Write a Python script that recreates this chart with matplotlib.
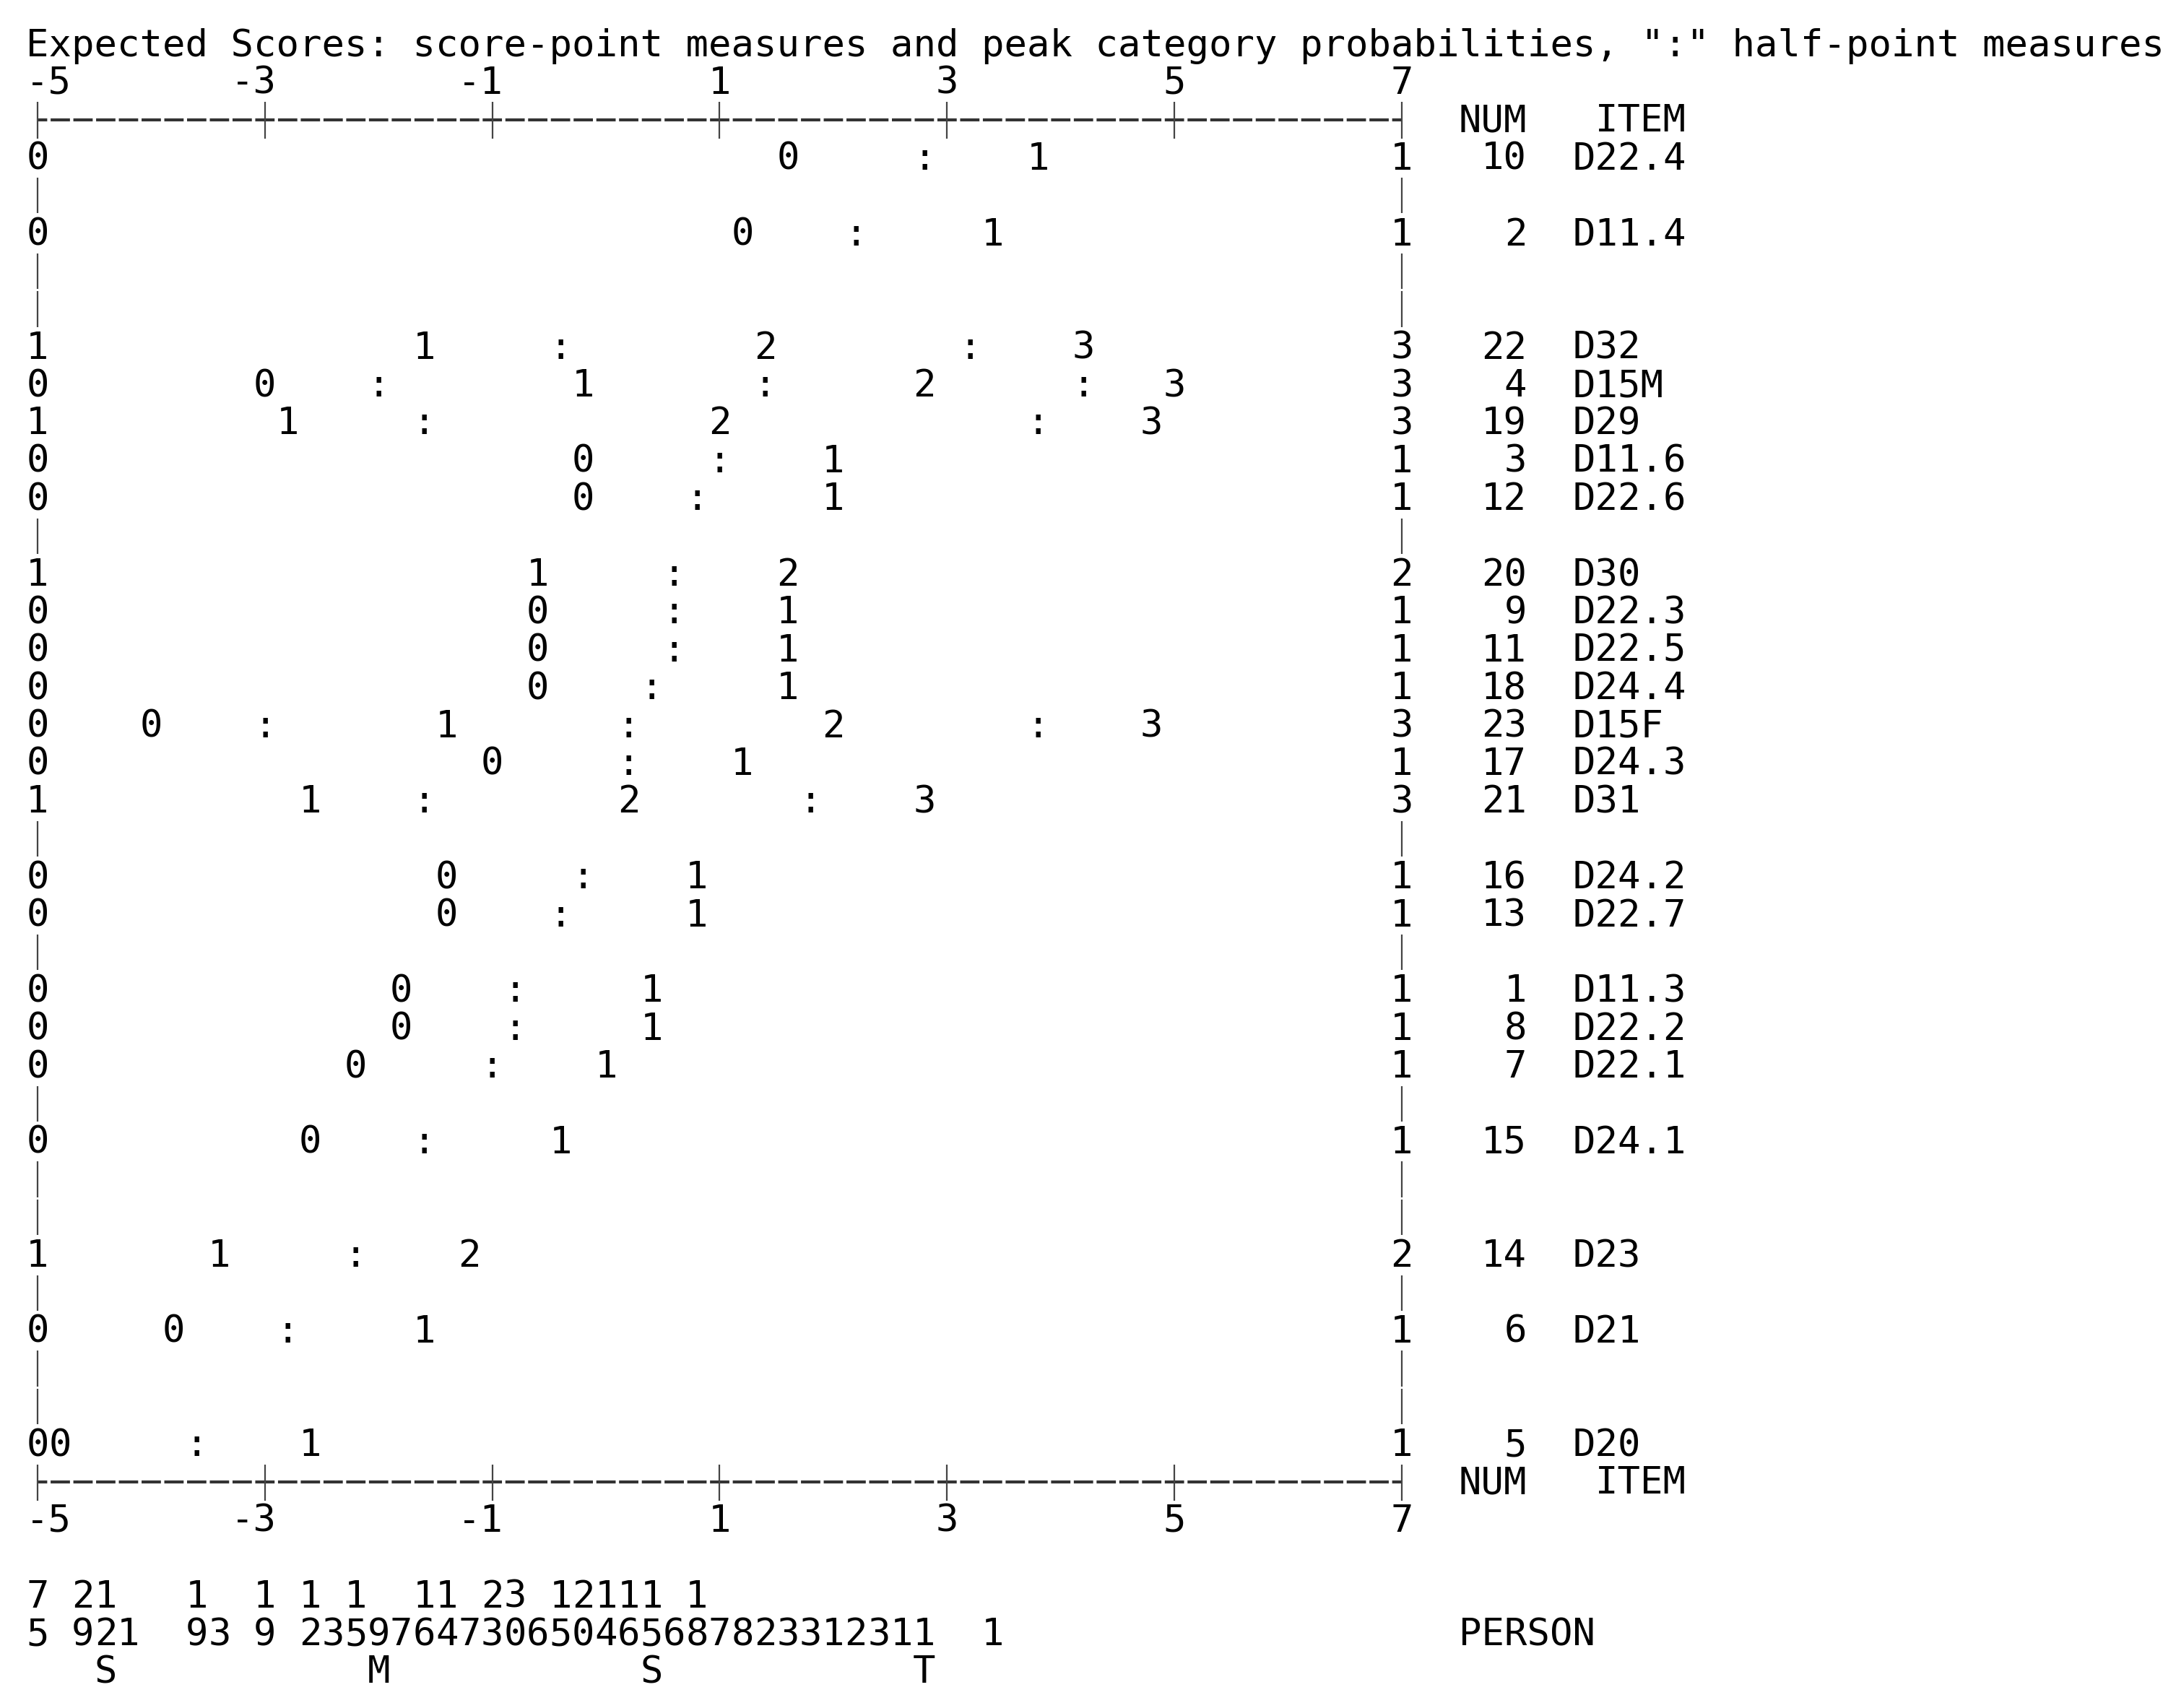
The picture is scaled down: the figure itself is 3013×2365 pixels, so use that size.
import matplotlib
matplotlib.use('Agg')
import matplotlib.pyplot as plt

# Itens, de cima para baixo, com NUM e categorias nas bordas do grafico
item_nomes = ['D22.4', 'D11.4', 'D32', 'D15M', 'D29', 'D11.6', 'D22.6', 'D30',
              'D22.3', 'D22.5', 'D24.4', 'D15F', 'D24.3', 'D31', 'D24.2', 'D22.7',
              'D11.3', 'D22.2', 'D22.1', 'D24.1', 'D23', 'D21', 'D20']
item_num = [10, 2, 22, 4, 19, 3, 12, 20, 9, 11, 18, 23, 17, 21, 16, 13, 1, 8, 7, 15, 14, 6, 5]
cat_esq = ['0', '0', '1', '0', '1', '0', '0', '1', '0', '0', '0', '0', '0', '1',
           '0', '0', '0', '0', '0', '0', '1', '0', '0']
cat_dir = ['1', '1', '3', '3', '3', '1', '1', '2', '1', '1', '1', '3', '1', '3',
           '1', '1', '1', '1', '1', '1', '2', '1', '1']

# Medidas dos pontos de escore (categoria, logit) e dos meio-pontos ":"
pontos = [
    [(0, 1.6), (1, 3.8)],
    [(0, 1.2), (1, 3.4)],
    [(1, -1.6), (2, 1.4), (3, 4.2)],
    [(0, -3.0), (1, -0.2), (2, 2.8), (3, 5.0)],
    [(1, -2.8), (2, 1.0), (3, 4.8)],
    [(0, -0.2), (1, 2.0)],
    [(0, -0.2), (1, 2.0)],
    [(1, -0.6), (2, 1.6)],
    [(0, -0.6), (1, 1.6)],
    [(0, -0.6), (1, 1.6)],
    [(0, -0.6), (1, 1.6)],
    [(0, -4.0), (1, -1.4), (2, 2.0), (3, 4.8)],
    [(0, -1.0), (1, 1.2)],
    [(1, -2.6), (2, 0.2), (3, 2.8)],
    [(0, -1.4), (1, 0.8)],
    [(0, -1.4), (1, 0.8)],
    [(0, -1.8), (1, 0.4)],
    [(0, -1.8), (1, 0.4)],
    [(0, -2.2), (1, 0.0)],
    [(0, -2.6), (1, -0.4)],
    [(1, -3.4), (2, -1.2)],
    [(0, -3.8), (1, -1.6)],
    [(0, -4.8), (1, -2.6)],
]
meio_pontos = [
    [2.8], [2.2], [-0.4, 3.2], [-2.0, 1.4, 4.2], [-1.6, 3.8], [1.0], [0.8],
    [0.6], [0.6], [0.6], [0.4], [-3.0, 0.2, 3.8], [0.2], [-1.6, 1.8],
    [-0.2], [-0.4], [-0.8], [-0.8], [-1.0], [-1.6], [-2.2], [-2.8], [-3.6],
]

# Ordem das linhas do grafico (None = linha so com "|")
linhas = ['D22.4', None, 'D11.4', None, None, 'D32', 'D15M', 'D29', 'D11.6', 'D22.6',
          None, 'D30', 'D22.3', 'D22.5', 'D24.4', 'D15F', 'D24.3', 'D31', None,
          'D24.2', 'D22.7', None, 'D11.3', 'D22.2', 'D22.1', None, 'D24.1', None, None,
          'D23', None, 'D21', None, None, 'D20']

# Escala
ticks = [-5, -3, -1, 1, 3, 5, 7]

# Distribuicao das pessoas (logit, contagem) e marcadores M/S/T
pessoa_medida = [-5.0, -4.6, -4.4, -4.2, -3.6, -3.4, -3.0, -2.6, -2.4, -2.2, -2.0,
                 -1.8, -1.6, -1.4, -1.2, -1.0, -0.8, -0.6, -0.4, -0.2, 0.0, 0.2,
                 0.4, 0.6, 0.8, 1.0, 1.2, 1.4, 1.6, 1.8, 2.0, 2.2, 2.4, 2.6, 2.8, 3.4]
pessoa_n = [75, 29, 12, 1, 19, 3, 19, 12, 3, 15, 9, 7, 16, 14, 7, 23, 30, 6, 15, 20,
            14, 16, 15, 6, 18, 7, 8, 2, 3, 3, 1, 2, 3, 1, 1, 1]
marca_medida = [-4.4, -2.0, 0.4, 2.8]
marca_rotulo = ['S', 'M', 'S', 'T']

titulo = 'Expected Scores: score-point measures and peak category probabilities, ":" half-point measures'

# Configuracao do grafico (texto monoespacado, 5 colunas por logit)
fonte = 'DejaVu Sans Mono'
tam = 37.65
col = 0.2

fig = plt.figure(figsize=(30.13, 23.65), dpi=100)
ax = fig.add_axes([0, 0, 1, 1])
ax.set_xlim(-5.33, 13.81)
ax.set_ylim(43.97, -1.17)
ax.axis('off')


def escreve(x, r, s, ha='center'):
    ax.text(x, r + 0.31, s, ha=ha, va='baseline', fontsize=tam, family=fonte, color='black')


escreve(ticks[0] - col / 2, 0, titulo, ha='left')

# Eixos de cima e de baixo
px_col = col * 3013 / (13.81 + 5.33)
lw = 3.0
lw_px = lw * 100 / 72
tracos = (0.85 * px_col / lw_px, 0.15 * px_col / lw_px)
for r_eixo, r_rot in [(2, 1), (38, 39)]:
    ax.plot([ticks[0], ticks[-1]], [r_eixo, r_eixo], color='#333333', lw=lw,
            linestyle=(tracos[0] / 2, tracos))
    ax.vlines(ticks, r_eixo - 0.47, r_eixo + 0.5, color='#444444', lw=1.6)
    for t in ticks:
        s = str(t)
        if t - col * len(s) + col / 2 < ticks[0] - col / 2:
            escreve(ticks[0] - col / 2, r_rot, s, ha='left')
        else:
            escreve(t + col / 2, r_rot, s, ha='right')
    escreve(8.0 + col / 2, r_eixo, 'NUM', ha='right')
    escreve(8.8 - col / 2, r_eixo, 'ITEM', ha='left')

# Linhas dos itens
for i, nome in enumerate(linhas):
    r = 3 + i
    if nome is None:
        ax.vlines([ticks[0], ticks[-1]], r - 0.47, r + 0.47, color='#444444', lw=1.6)
        continue
    k = item_nomes.index(nome)
    escreve(ticks[0], r, cat_esq[k])
    escreve(ticks[-1], r, cat_dir[k])
    for cat, m in pontos[k]:
        escreve(m, r, str(cat))
    for m in meio_pontos[k]:
        escreve(m, r, ':')
    escreve(8.0 + col / 2, r, str(item_num[k]), ha='right')
    escreve(8.6 - col / 2, r, nome, ha='left')

# Pessoas
for m, n in zip(pessoa_medida, pessoa_n):
    if n >= 10:
        escreve(m, 41, str(n // 10))
    escreve(m, 42, str(n % 10))
for m, s in zip(marca_medida, marca_rotulo):
    escreve(m, 43, s)
escreve(7.6 - col / 2, 42, 'PERSON', ha='left')

plt.savefig('out.png', dpi=100)
